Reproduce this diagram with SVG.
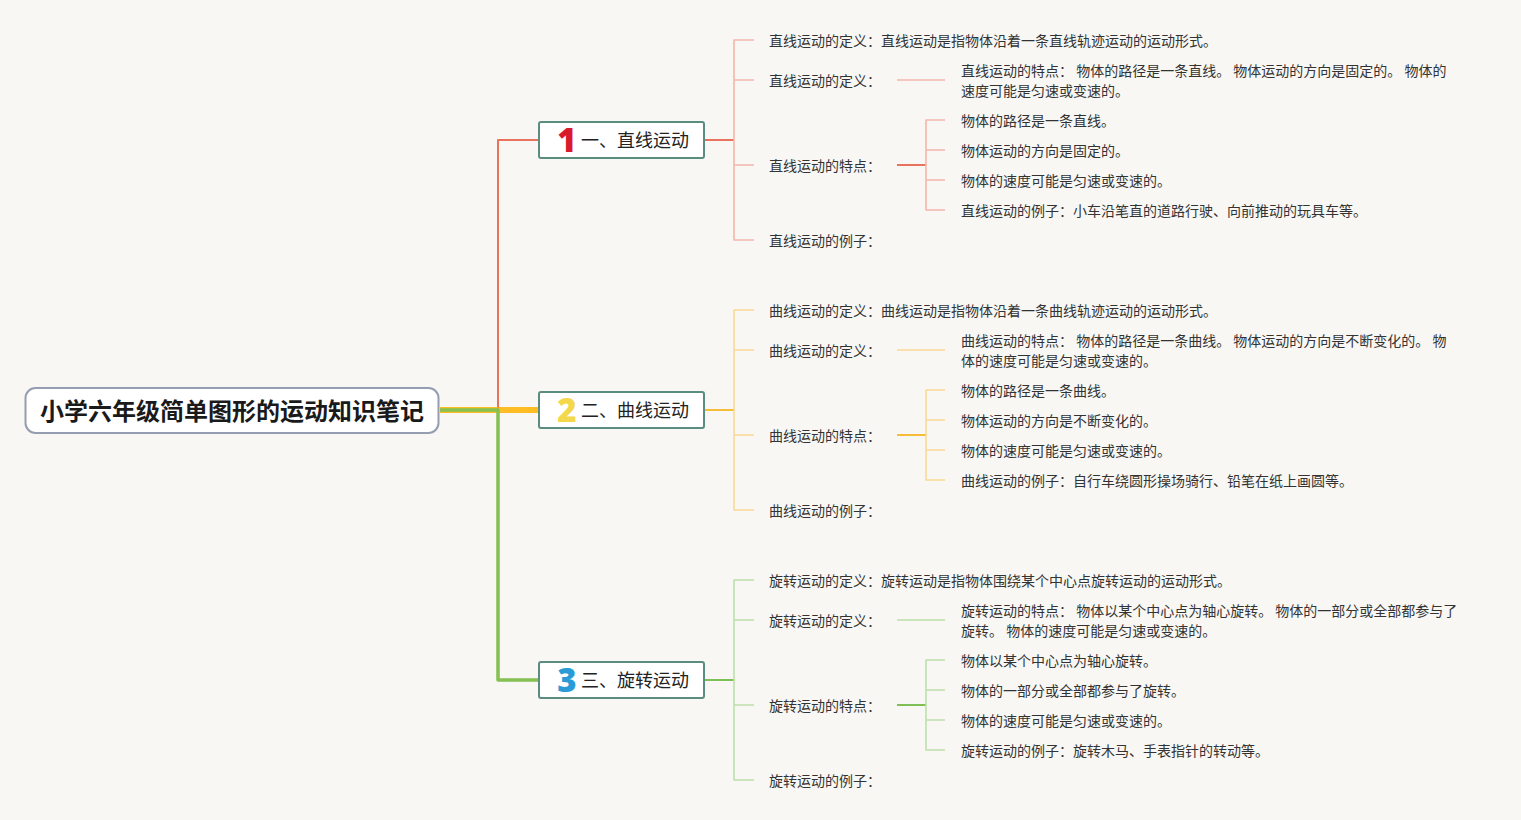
<svg xmlns="http://www.w3.org/2000/svg" width="1521" height="820" viewBox="0 0 1521 820">
<style>
.t{font-family:"Noto Sans CJK SC","Noto Sans",sans-serif;font-size:14px;fill:#333;}
.bt{font-family:"Noto Sans CJK SC","Noto Sans",sans-serif;font-size:18px;fill:#222;}
.rt{font-family:"Noto Sans CJK SC","Noto Sans",sans-serif;font-size:24px;font-weight:bold;fill:#1a1a1a;}
.num{font-family:"Open Sans","Liberation Sans",sans-serif;font-size:33px;font-weight:800;text-anchor:middle;}
.box{fill:#fff;stroke:#5a8c80;stroke-width:2;}
.c{fill:none;stroke-linejoin:round;}
.r1{stroke:#e9725d;stroke-width:2;}
.r2{stroke:#f4b6ab;stroke-width:1.6;}
.o1{stroke:#f6bd3a;stroke-width:2;}
.o2{stroke:#fad993;stroke-width:1.6;}
.g1{stroke:#7fbf57;stroke-width:2;}
.g2{stroke:#bddfa9;stroke-width:1.6;}
</style>
<rect width="1521" height="820" fill="#f8f7f4"/>
<g id="connectors">
<path class="c" d="M498,410 V140 H539" stroke="#e9725d" stroke-width="2"/>
<path class="c" d="M440,410 H539" stroke="#ffb300" stroke-width="6" stroke-opacity="0.85"/>
<path class="c" d="M440,410 H498 V680 H539" stroke="#84c052" stroke-width="3.5"/>
<!-- branch 1 -->
<path class="c r1" d="M704,140 H734"/>
<path class="c r2" d="M754,40 H734 V240 H754 M734,80 H754 M734,165 H754"/>
<path class="c r2" d="M897,80 H945"/>
<path class="c r1" d="M897,165 H926"/>
<path class="c r2" d="M945,120 H926 V210 H945 M926,150 H945 M926,180 H945"/>
<!-- branch 2 -->
<path class="c o1" d="M704,410 H734"/>
<path class="c o2" d="M754,310 H734 V510 H754 M734,350 H754 M734,435 H754"/>
<path class="c o2" d="M897,350 H945"/>
<path class="c o1" d="M897,435 H926"/>
<path class="c o2" d="M945,390 H926 V480 H945 M926,420 H945 M926,450 H945"/>
<!-- branch 3 -->
<path class="c g1" d="M704,680 H734"/>
<path class="c g2" d="M754,580 H734 V780 H754 M734,620 H754 M734,705 H754"/>
<path class="c g2" d="M897,620 H945"/>
<path class="c g1" d="M897,705 H926"/>
<path class="c g2" d="M945,660 H926 V750 H945 M926,690 H945 M926,720 H945"/>
</g>
<g id="root">
<rect x="25.5" y="388" width="413" height="45" rx="10" fill="#fff" stroke="#959db0" stroke-width="2"/>
<text class="rt" x="232" y="420" text-anchor="middle">小学六年级简单图形的运动知识笔记</text>
</g>
<g id="b1">
<rect class="box" x="539" y="122" width="165" height="36" rx="2"/>
<text class="num" x="567" y="152" fill="#d9192c">1</text>
<text class="bt" x="581" y="147">一、直线运动</text>
</g>
<g id="b2">
<rect class="box" x="539" y="392" width="165" height="36" rx="2"/>
<text class="num" x="567" y="422" fill="#f2d84a">2</text>
<text class="bt" x="581" y="417">二、曲线运动</text>
</g>
<g id="b3">
<rect class="box" x="539" y="662" width="165" height="36" rx="2"/>
<text class="num" x="567" y="692" fill="#2b9bd8">3</text>
<text class="bt" x="581" y="687">三、旋转运动</text>
</g>
<g id="b1-items" xml:space="preserve">
<text class="t" x="769" y="46">直线运动的定义：直线运动是指物体沿着一条直线轨迹运动的运动形式。</text>
<text class="t" x="769" y="86">直线运动的定义：</text>
<text class="t" x="961" y="76">直线运动的特点： 物体的路径是一条直线。 物体运动的方向是固定的。 物体的</text>
<text class="t" x="961" y="96">速度可能是匀速或变速的。</text>
<text class="t" x="769" y="171">直线运动的特点：</text>
<text class="t" x="961" y="126">物体的路径是一条直线。</text>
<text class="t" x="961" y="156">物体运动的方向是固定的。</text>
<text class="t" x="961" y="186">物体的速度可能是匀速或变速的。</text>
<text class="t" x="961" y="216">直线运动的例子：小车沿笔直的道路行驶、向前推动的玩具车等。</text>
<text class="t" x="769" y="246">直线运动的例子：</text>
</g>
<g id="b2-items" xml:space="preserve">
<text class="t" x="769" y="316">曲线运动的定义：曲线运动是指物体沿着一条曲线轨迹运动的运动形式。</text>
<text class="t" x="769" y="356">曲线运动的定义：</text>
<text class="t" x="961" y="346">曲线运动的特点： 物体的路径是一条曲线。 物体运动的方向是不断变化的。 物</text>
<text class="t" x="961" y="366">体的速度可能是匀速或变速的。</text>
<text class="t" x="769" y="441">曲线运动的特点：</text>
<text class="t" x="961" y="396">物体的路径是一条曲线。</text>
<text class="t" x="961" y="426">物体运动的方向是不断变化的。</text>
<text class="t" x="961" y="456">物体的速度可能是匀速或变速的。</text>
<text class="t" x="961" y="486">曲线运动的例子：自行车绕圆形操场骑行、铅笔在纸上画圆等。</text>
<text class="t" x="769" y="516">曲线运动的例子：</text>
</g>
<g id="b3-items" xml:space="preserve">
<text class="t" x="769" y="586">旋转运动的定义：旋转运动是指物体围绕某个中心点旋转运动的运动形式。</text>
<text class="t" x="769" y="626">旋转运动的定义：</text>
<text class="t" x="961" y="616">旋转运动的特点： 物体以某个中心点为轴心旋转。 物体的一部分或全部都参与了</text>
<text class="t" x="961" y="636">旋转。 物体的速度可能是匀速或变速的。</text>
<text class="t" x="769" y="711">旋转运动的特点：</text>
<text class="t" x="961" y="666">物体以某个中心点为轴心旋转。</text>
<text class="t" x="961" y="696">物体的一部分或全部都参与了旋转。</text>
<text class="t" x="961" y="726">物体的速度可能是匀速或变速的。</text>
<text class="t" x="961" y="756">旋转运动的例子：旋转木马、手表指针的转动等。</text>
<text class="t" x="769" y="786">旋转运动的例子：</text>
</g>
</svg>
